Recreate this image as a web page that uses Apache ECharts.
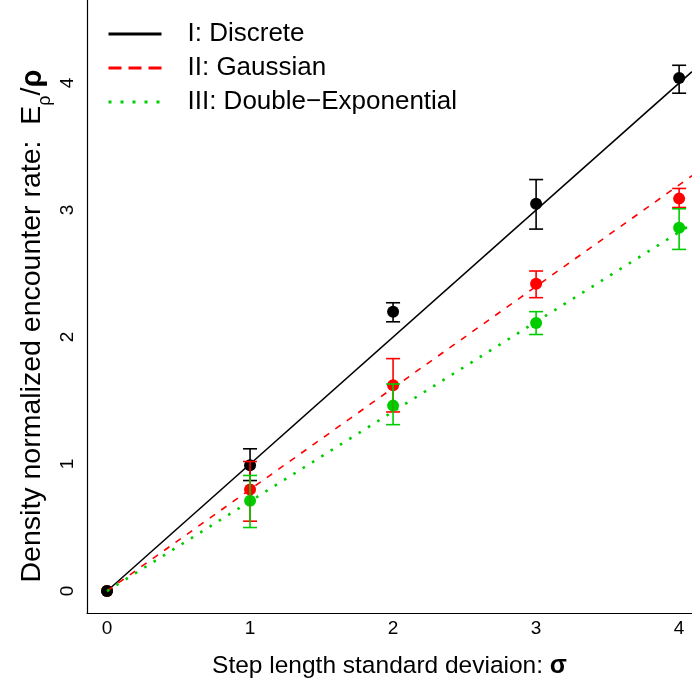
<!DOCTYPE html>
<html>
<head>
<meta charset="utf-8">
<script src="https://cdn.jsdelivr.net/npm/echarts@6/dist/echarts.min.js"></script>
<style>html,body{margin:0;padding:0;background:#fff}#c{width:692px;height:688px}</style>
</head>
<body>
<div id="c"></div>
<script>
// sigma values (x categories)
const sigma = [0, 1, 2, 3, 4];
const xTicks = [0, 1, 2, 3, 4];
const yTicks = [0, 1, 2, 3, 4];

// I: Discrete
const discreteMean = [0, 0.99, 2.20, 3.05, 4.04];
const discreteLow  = [0, 0.87, 2.12, 2.85, 3.92];
const discreteHigh = [0, 1.12, 2.27, 3.24, 4.14];
// II: Gaussian
const gaussMean = [0, 0.80, 1.62, 2.42, 3.09];
const gaussLow  = [0, 0.55, 1.41, 2.31, 3.02];
const gaussHigh = [0, 1.02, 1.83, 2.52, 3.17];
// III: Double-Exponential
const dexpMean = [0, 0.71, 1.46, 2.11, 2.86];
const dexpLow  = [0, 0.50, 1.31, 2.02, 2.69];
const dexpHigh = [0, 0.91, 1.63, 2.20, 3.01];

// fitted lines (endpoints)
const fitX = [0, 4.09];
const discreteFit = [0, 4.09];
const gaussFit = [0, 3.27];
const dexpFit = [0, 2.89];

const names = ['I: Discrete', 'II: Gaussian', 'III: Double\u2212Exponential'];
const colors = ['#000000', '#FF0000', '#00CD00'];
const FONT = 'Liberation Sans, Arial, Helvetica, sans-serif';

const pairs = (xs, ys) => xs.map((x, i) => [x, ys[i]]);
const bars = (xs, lo, hi) => xs.map((x, i) => [x, lo[i], hi[i]]).filter(d => d[2] > d[1]);

function errRender(color) {
  return function (params, api) {
    const x = api.value(0);
    const a = api.coord([x, api.value(1)]);
    const b = api.coord([x, api.value(2)]);
    const w = 7;
    const st = { stroke: color, lineWidth: 1.6 };
    return {
      type: 'group',
      children: [
        { type: 'line', shape: { x1: a[0], y1: a[1], x2: b[0], y2: b[1] }, style: st },
        { type: 'line', shape: { x1: a[0] - w, y1: a[1], x2: a[0] + w, y2: a[1] }, style: st },
        { type: 'line', shape: { x1: b[0] - w, y1: b[1], x2: b[0] + w, y2: b[1] }, style: st }
      ]
    };
  };
}

const hideSym = { opacity: 0, color: 'transparent', borderWidth: 0 };

const chart = echarts.init(document.getElementById('c'), null, { renderer: 'canvas' });
chart.setOption({
  animation: false,
  backgroundColor: '#ffffff',
  textStyle: { fontFamily: FONT },
  grid: { left: 87, right: 0, top: 0, bottom: 75, containLabel: false },
  xAxis: {
    type: 'value', min: -0.14, max: 4.09,
    splitLine: { show: false },
    axisTick: { show: false },
    axisLine: { show: true, onZero: false, lineStyle: { color: '#000', width: 1.2 } },
    axisLabel: { customValues: xTicks, color: '#000', fontSize: 19, fontFamily: FONT, margin: 6 },
    name: '{a|Step length standard deviaion: }{g|σ}',
    nameLocation: 'middle', nameGap: 41,
    nameTextStyle: {
      rich: {
        a: { fontSize: 24.5, fontFamily: FONT, color: '#000' },
        g: { fontSize: 25, fontFamily: FONT, color: '#000', fontWeight: 'bold' }
      }
    }
  },
  yAxis: {
    type: 'value', min: -0.173, max: 4.654,
    splitLine: { show: false },
    axisTick: { show: false },
    axisLine: { show: true, onZero: false, lineStyle: { color: '#000', width: 1.2 } },
    axisLabel: { customValues: yTicks, color: '#000', fontSize: 19, fontFamily: FONT, margin: 10, rotate: 90 }
  },
  graphic: [{
    type: 'text', x: 36, y: 326, rotation: Math.PI / 2, silent: true,
    style: {
      text: '{a|Density normalized encounter rate:  E}{s|ρ}{a|/}{g|ρ}',
      align: 'center', verticalAlign: 'middle',
      rich: {
        a: { fontSize: 28.5, fontFamily: FONT, fill: '#000', color: '#000', padding: [0, 0, 7, 0], verticalAlign: 'bottom' },
        s: { fontSize: 18, fontFamily: FONT, fill: '#000', color: '#000', verticalAlign: 'bottom' },
        g: { fontSize: 29, fontFamily: FONT, fill: '#000', color: '#000', fontWeight: 'bold', padding: [0, 0, 7, 0], verticalAlign: 'bottom' }
      }
    }
  }],
  legend: {
    orient: 'vertical', left: 102, top: 16,
    itemWidth: 53, itemHeight: 26, itemGap: 8,
    textStyle: { fontSize: 26, fontFamily: FONT, color: '#000', padding: [0, 0, 0, 21], lineHeight: 26 },
    data: [
      { name: names[0], itemStyle: hideSym, lineStyle: { width: 3, type: 'solid', color: colors[0] } },
      { name: names[1], itemStyle: hideSym, lineStyle: { width: 3, type: [13, 7], color: colors[1] } },
      { name: names[2], itemStyle: hideSym, lineStyle: { width: 3, type: [3, 9], color: colors[2] } }
    ]
  },
  series: [
    { type: 'scatter', name: 'pts3', data: pairs(sigma, dexpMean), symbol: 'circle', symbolSize: 12, itemStyle: { color: colors[2], opacity: 1 }, z: 2 },
    { type: 'scatter', name: 'pts2', data: pairs(sigma, gaussMean), symbol: 'circle', symbolSize: 12, itemStyle: { color: colors[1], opacity: 1 }, z: 2 },
    { type: 'scatter', name: 'pts1', data: pairs(sigma, discreteMean), symbol: 'circle', symbolSize: 12, itemStyle: { color: colors[0], opacity: 1 }, z: 2 },
    { type: 'line', name: names[0], data: pairs(fitX, discreteFit), symbol: 'none', showSymbol: false,
      lineStyle: { color: colors[0], width: 1.5, type: 'solid' }, itemStyle: { color: colors[0] }, z: 3 },
    { type: 'line', name: names[1], data: pairs(fitX, gaussFit), symbol: 'none', showSymbol: false,
      lineStyle: { color: colors[1], width: 1.6, type: [6.5, 7.5] }, itemStyle: { color: colors[1] }, z: 3 },
    { type: 'line', name: names[2], data: pairs(fitX, dexpFit), symbol: 'none', showSymbol: false,
      lineStyle: { color: colors[2], width: 2.6, type: [2.6, 8.4] }, itemStyle: { color: colors[2] }, z: 3 },
    { type: 'custom', name: 'err1', data: bars(sigma, discreteLow, discreteHigh), renderItem: errRender(colors[0]), z: 4, encode: { x: 0, y: [1, 2] } },
    { type: 'custom', name: 'err2', data: bars(sigma, gaussLow, gaussHigh), renderItem: errRender(colors[1]), z: 4, encode: { x: 0, y: [1, 2] } },
    { type: 'custom', name: 'err3', data: bars(sigma, dexpLow, dexpHigh), renderItem: errRender(colors[2]), z: 4, encode: { x: 0, y: [1, 2] } }
  ]
});
</script>
</body>
</html>
